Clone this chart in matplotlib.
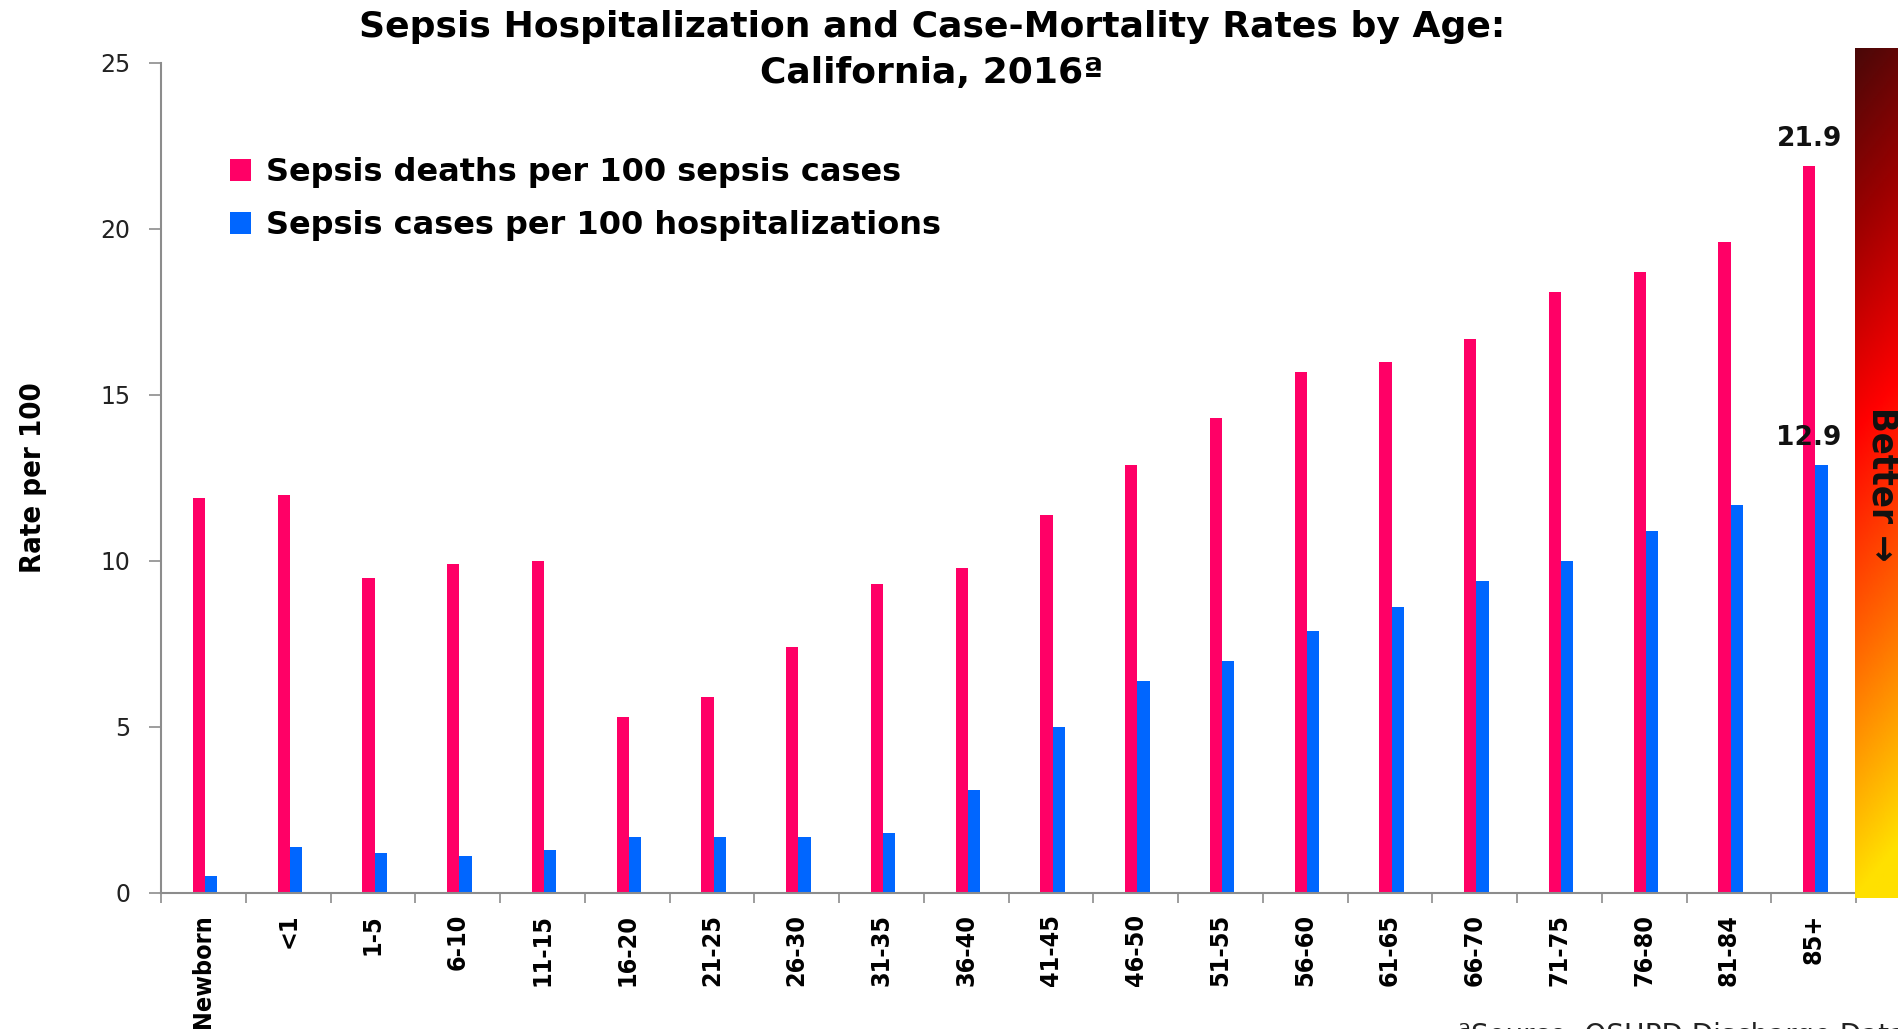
import numpy as np
import matplotlib
matplotlib.use("Agg")
import matplotlib.pyplot as plt
from matplotlib.patches import Patch
from matplotlib.colors import LinearSegmentedColormap

# ---- data ----
categories = ["Newborn", "<1", "1-5", "6-10", "11-15", "16-20", "21-25", "26-30",
              "31-35", "36-40", "41-45", "46-50", "51-55", "56-60", "61-65",
              "66-70", "71-75", "76-80", "81-84", "85+"]
deaths_per_100_cases = [11.9, 12.0, 9.5, 9.9, 10.0, 5.3, 5.9, 7.4, 9.3, 9.8,
                        11.4, 12.9, 14.3, 15.7, 16.0, 16.7, 18.1, 18.7, 19.6, 21.9]
cases_per_100_hosp = [0.5, 1.4, 1.2, 1.1, 1.3, 1.7, 1.7, 1.7, 1.8, 3.1,
                      5.0, 6.4, 7.0, 7.9, 8.6, 9.4, 10.0, 10.9, 11.7, 12.9]
series_names = ["Sepsis deaths per 100 sepsis cases",
                "Sepsis cases per 100 hospitalizations"]
yticks = [0, 5, 10, 15, 20, 25]

PINK = "#FF0066"
BLUE = "#0066FF"
GRID = "#8c8c8c"
COND = dict(family="DejaVu Sans", fontstretch="condensed", fontweight="bold")

W, H = 1898, 1029
fig = plt.figure(figsize=(W / 100, H / 100), dpi=100)
fig.patch.set_facecolor("white")

L, R, B, T = 161, 1856, 893, 63
ax = fig.add_axes([L / W, 1 - B / H, (R - L) / W, (B - T) / H])

x = np.arange(len(categories))
bw = 0.145
off = 0.02
ax.bar(x - bw / 2 + off, deaths_per_100_cases, width=bw, color=PINK, label=series_names[0])
ax.bar(x + bw / 2 + off, cases_per_100_hosp, width=bw, color=BLUE, label=series_names[1])

ax.set_xlim(-0.5, len(categories) - 0.5)
ax.set_ylim(0, 25)
ax.set_yticks(yticks)
ax.set_yticklabels([str(v) for v in yticks], fontsize=17, color="#222222",
                   family="DejaVu Sans")
ax.tick_params(axis="y", direction="out", length=9, width=1.2, color=GRID, pad=13)

ax.set_xticks(x)
ax.set_xticklabels(categories, rotation=90, fontsize=18, va="top", ha="center", **COND)
ax.tick_params(axis="x", which="major", length=0, pad=15)
ax.set_xticks(np.arange(-0.5, len(categories)), minor=True)
ax.tick_params(axis="x", which="minor", direction="out", length=7, width=1.2, color=GRID)

for s in ["top", "right"]:
    ax.spines[s].set_visible(False)
for s in ["left", "bottom"]:
    ax.spines[s].set_color(GRID)
    ax.spines[s].set_linewidth(1.5)

ax.set_ylabel("Rate per 100", fontsize=21, **COND)
ax.yaxis.set_label_coords(-0.067, 0.5)

# data labels on last group
last = len(categories) - 1
ax.annotate(f"{deaths_per_100_cases[last]:.1f}", (x[last] - bw / 2 + off, deaths_per_100_cases[last]),
            xytext=(0, 10), textcoords="offset points", ha="center", va="bottom",
            fontsize=19, fontweight="bold", family="DejaVu Sans", color="#111111")
ax.annotate(f"{cases_per_100_hosp[last]:.1f}", (x[last] - bw / 2 + off, cases_per_100_hosp[last]),
            xytext=(0, 10), textcoords="offset points", ha="center", va="bottom",
            fontsize=19, fontweight="bold", family="DejaVu Sans", color="#111111")

# legend
handles = [Patch(facecolor=PINK, edgecolor="none"), Patch(facecolor=BLUE, edgecolor="none")]
fig.legend(handles, series_names, loc="upper left", bbox_to_anchor=(230 / W, 1 - 157 / H),
           frameon=False, prop={"family": "DejaVu Sans", "weight": "bold", "size": 23},
           handlelength=0.67, handleheight=0.67, handletextpad=0.45, labelspacing=0.7,
           borderpad=0, borderaxespad=0)

# title
fig.text(932 / W, 1 - 27 / H, "Sepsis Hospitalization and Case-Mortality Rates by Age:",
         ha="center", va="center", fontsize=26, fontweight="bold", family="DejaVu Sans")
fig.text(932 / W, 1 - 73 / H, "California, 2016ª",
         ha="center", va="center", fontsize=26, fontweight="bold", family="DejaVu Sans")

# gradient "Better" bar
gx0, gy0, gy1 = 1855, 48, 898
gax = fig.add_axes([gx0 / W, 1 - gy1 / H, (W - gx0) / W, (gy1 - gy0) / H])
cmap = LinearSegmentedColormap.from_list(
    "better", [(0.0, "#4a0808"), (0.22, "#a00000"), (0.45, "#ff0000"),
               (0.72, "#ff6a00"), (1.0, "#ffe000")])
vv, uu = np.mgrid[0:1:400j, 0:1:40j]
grad = np.clip(vv + 0.06 * uu, 0, 1)
gax.imshow(grad, cmap=cmap, aspect="auto", extent=(0, 1, 0, 1), origin="upper",
           vmin=0, vmax=1)
gax.set_axis_off()
fig.text(1882 / W, 1 - 484 / H, "Better \u2192", rotation=-90, ha="center", va="center",
         fontsize=26, color="#111111", **COND)

# source note (cut off at bottom edge, as in the original)
fig.text(1458 / W, 1 - 1022 / H, "ªSource: OSHPD Discharge Data", ha="left", va="top",
         fontsize=20, family="DejaVu Sans", color="#222222")

fig.savefig("out.png", dpi=100, facecolor="white")
